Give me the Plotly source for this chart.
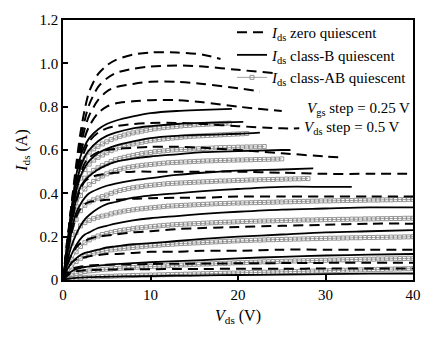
import plotly.graph_objects as go

# ---------------- data ----------------
# zero quiescent (dashed): V_ds points and I_ds values per V_gs curve
zero_v = [
    [0, .5, 1, 1.5, 2, 2.5, 3, 4, 5, 6, 8, 10, 13, 16, 18],
    [0, .5, 1, 1.5, 2, 2.5, 3, 4, 5, 6, 8, 10, 13, 16, 20, 24],
    [0, .5, 1, 1.5, 2, 2.5, 3, 4, 5, 6, 8, 10, 13, 16, 20, 22.5],
    [0, .5, 1, 1.5, 2, 2.5, 3, 4, 5, 6, 8, 10, 13, 16, 20, 25],
    [0, .5, 1, 1.5, 2, 2.5, 3, 4, 5, 6, 8, 10, 13, 16, 20, 25, 27],
    [0, .5, 1, 1.5, 2, 2.5, 3, 4, 5, 6, 8, 10, 13, 16, 20, 25, 30, 32],
    [0, .5, 1, 1.5, 2, 2.5, 3, 4, 5, 6, 8, 10, 13, 16, 20, 25, 30, 35, 40],
    [0, .5, 1, 1.5, 2, 2.5, 3, 4, 5, 6, 8, 10, 13, 16, 20, 25, 30, 35, 40],
    [0, .5, 1, 1.5, 2, 2.5, 3, 4, 5, 6, 8, 10, 13, 16, 20, 25, 30, 35, 40],
    [0, .5, 1, 1.5, 2, 2.5, 3, 4, 5, 6, 8, 10, 13, 16, 20, 25, 30, 35, 40],
    [0, .5, 1, 1.5, 2, 2.5, 3, 4, 5, 6, 8, 10, 13, 16, 20, 25, 30, 35, 40],
    [0, .5, 1, 1.5, 2, 2.5, 3, 4, 5, 6, 8, 10, 13, 16, 20, 25, 30, 35, 40],
]
zero_i = [
    [0, .18, .36, .53, .68, .79, .87, .95, .99, 1.015, 1.04, 1.05, 1.05, 1.04, 1.02],
    [0, .18, .35, .51, .64, .74, .81, .89, .93, .955, .975, .985, .99, .985, .97, .955],
    [0, .17, .34, .49, .61, .70, .76, .83, .87, .89, .905, .915, .915, .905, .885, .87],
    [0, .17, .33, .47, .58, .66, .71, .77, .80, .815, .825, .83, .83, .82, .80, .78],
    [0, .16, .31, .44, .54, .60, .64, .68, .70, .71, .72, .725, .725, .72, .71, .70, .70],
    [0, .15, .29, .41, .49, .54, .565, .59, .60, .605, .61, .615, .615, .61, .60, .585, .57, .565],
    [0, .14, .26, .36, .42, .455, .47, .485, .49, .495, .50, .50, .50, .50, .50, .495, .49, .49, .49],
    [0, .12, .22, .29, .33, .35, .36, .365, .37, .37, .375, .377, .38, .38, .385, .385, .385, .385, .385],
    [0, .07, .12, .15, .17, .18, .19, .20, .205, .21, .22, .225, .235, .24, .245, .25, .255, .26, .26],
    [0, .05, .08, .095, .10, .105, .11, .115, .12, .12, .125, .13, .13, .135, .135, .14, .14, .14, .14],
    [0, .03, .05, .058, .062, .065, .067, .069, .07, .071, .072, .074, .075, .076, .077, .078, .079, .08, .08],
    [0, .02, .035, .04, .043, .045, .046, .047, .048, .049, .05, .05, .051, .051, .052, .052, .053, .053, .053],
]

# class-B quiescent (solid)
classb_v = [
    [0, .5, 1, 1.5, 2, 2.5, 3, 4, 5, 6, 8, 10, 13, 16, 19.3],
    [0, .5, 1, 1.5, 2, 2.5, 3, 4, 5, 6, 8, 10, 13, 16, 20.6],
    [0, .5, 1, 1.5, 2, 2.5, 3, 4, 5, 6, 8, 10, 13, 16, 20, 22.5],
    [0, .5, 1, 1.5, 2, 2.5, 3, 4, 5, 6, 8, 10, 13, 16, 20, 25, 26],
    [0, .5, 1, 1.5, 2, 2.5, 3, 4, 5, 6, 8, 10, 13, 16, 20, 25, 28.6],
    [0, .5, 1, 1.5, 2, 2.5, 3, 4, 5, 6, 8, 10, 13, 16, 20, 25, 30, 33],
    [0, .5, 1, 1.5, 2, 2.5, 3, 4, 5, 6, 8, 10, 13, 16, 20, 25, 30, 35, 40],
    [0, .5, 1, 1.5, 2, 2.5, 3, 4, 5, 6, 8, 10, 13, 16, 20, 25, 30, 35, 40],
    [0, .5, 1, 1.5, 2, 2.5, 3, 4, 5, 6, 8, 10, 13, 16, 20, 25, 30, 35, 40],
    [0, .5, 1, 1.5, 2, 2.5, 3, 4, 5, 6, 8, 10, 13, 16, 20, 25, 30, 35, 40],
]
classb_i = [
    [0, .17, .34, .48, .57, .62, .655, .695, .72, .735, .755, .77, .78, .785, .79],
    [0, .16, .32, .44, .52, .57, .60, .64, .665, .68, .70, .71, .72, .725, .73],
    [0, .15, .30, .41, .48, .52, .55, .585, .605, .62, .64, .655, .665, .67, .675, .68],
    [0, .14, .27, .37, .43, .46, .48, .51, .53, .545, .56, .57, .58, .59, .595, .60, .60],
    [0, .12, .23, .31, .35, .38, .40, .42, .435, .445, .46, .47, .485, .495, .505, .51, .515],
    [0, .09, .16, .21, .25, .28, .30, .33, .35, .36, .38, .39, .40, .41, .42, .43, .43, .43],
    [0, .07, .12, .16, .19, .21, .22, .24, .25, .26, .275, .285, .295, .305, .315, .325, .33, .335, .335],
    [0, .05, .08, .10, .115, .125, .13, .14, .15, .155, .165, .17, .18, .19, .20, .21, .22, .225, .23],
    [0, .025, .04, .05, .055, .06, .062, .066, .07, .073, .078, .082, .087, .092, .10, .107, .113, .117, .12],
    [0, .005, .008, .01, .011, .012, .013, .014, .015, .016, .017, .018, .02, .021, .023, .025, .027, .029, .03],
]

# class-AB quiescent (squares), sampled every 0.5 V from V_ds = 0
VDS_STEP = 0.5
classab_i = [
    [0, .16, .31, .43, .51, .56, .59, .605, .617, .628,
     .638, .648, .656, .663, .669, .674, .679, .683, .687, .691,
     .695, .698, .701, .703, .705, .707, .709, .711, .713, .714,
     .716, .717, .718, .719, .72, .721, .722, .723, .724],
    [0, .15, .29, .40, .47, .51, .535, .553, .566, .577,
     .587, .597, .605, .612, .618, .623, .628, .632, .636, .640,
     .643, .646, .649, .651, .653, .655, .657, .659, .661, .663,
     .664, .665, .666, .667, .668, .669, .670, .671, .672, .673,
     .674, .675, .676],
    [0, .14, .27, .37, .43, .47, .49, .506, .518, .528,
     .537, .547, .555, .561, .566, .571, .575, .579, .583, .586,
     .589, .592, .594, .596, .598, .600, .601, .602, .603, .604,
     .605, .606, .607, .608, .609, .610, .611, .611, .612, .612,
     .613, .613, .614, .614, .615, .615, .616],
    [0, .13, .25, .34, .39, .42, .44, .455, .468, .48,
     .49, .498, .505, .511, .516, .52, .523, .526, .529, .531,
     .533, .535, .537, .539, .541, .542, .543, .544, .545, .546,
     .547, .548, .549, .55, .55, .551, .552, .552, .553, .553,
     .554, .554, .555, .555, .556, .556, .557, .557, .558, .558,
     .559],
    [0, .11, .21, .28, .32, .345, .36, .37, .378, .385,
     .392, .40, .407, .413, .418, .422, .426, .429, .432, .435,
     .437, .439, .441, .443, .445, .446, .447, .448, .449, .45,
     .451, .452, .453, .454, .455, .456, .457, .457, .458, .459,
     .46, .46, .461, .462, .462, .463, .463, .464, .464, .465,
     .465, .466, .466, .467, .467, .468, .468],
    [0, .09, .17, .22, .25, .265, .275, .283, .29, .295,
     .299, .305, .31, .314, .318, .321, .324, .327, .329, .331,
     .333, .335, .337, .339, .341, .342, .343, .344, .345, .346,
     .347, .348, .349, .35, .351, .352, .353, .353, .354, .355,
     .355, .356, .356, .357, .357, .358, .358, .359, .359, .36,
     .36, .361, .361, .362, .362, .363, .363, .364, .364, .365,
     .365, .365, .366, .366, .367, .367, .367, .368, .368, .368,
     .369, .369, .369, .37, .37, .37, .371, .371, .371, .372,
     .372],
    [0, .05, .095, .13, .155, .172, .185, .195, .203, .21,
     .215, .22, .224, .228, .231, .234, .237, .24, .242, .244,
     .246, .248, .25, .252, .253, .255, .256, .257, .258, .259,
     .26, .261, .262, .263, .264, .265, .266, .267, .267, .268,
     .269, .27, .27, .271, .271, .272, .272, .273, .273, .274,
     .274, .275, .275, .276, .276, .277, .277, .277, .278, .278,
     .279, .279, .279, .28, .28, .28, .281, .281, .281, .282,
     .282, .282, .283, .283, .283, .284, .284, .284, .285, .285,
     .285],
    [0, .03, .06, .085, .1, .11, .118, .124, .129, .133,
     .136, .139, .142, .144, .146, .148, .15, .152, .154, .156,
     .158, .16, .161, .163, .164, .165, .167, .168, .169, .17,
     .171, .172, .173, .174, .175, .176, .177, .178, .179, .18,
     .181, .182, .182, .183, .184, .184, .185, .186, .186, .187,
     .187, .188, .188, .189, .189, .19, .19, .191, .191, .192,
     .192, .193, .193, .193, .194, .194, .195, .195, .195, .196,
     .196, .196, .197, .197, .197, .198, .198, .198, .199, .199,
     .2],
    [0, .012, .022, .03, .035, .039, .042, .044, .046, .048,
     .05, .051, .053, .054, .055, .057, .058, .059, .06, .061,
     .062, .063, .064, .065, .066, .067, .068, .069, .07, .071,
     .072, .073, .074, .074, .075, .076, .077, .077, .078, .079,
     .08, .08, .081, .082, .082, .083, .084, .084, .085, .085,
     .086, .087, .087, .088, .088, .089, .089, .09, .09, .091,
     .091, .092, .092, .093, .093, .094, .094, .095, .095, .096,
     .096, .096, .097, .097, .098, .098, .098, .099, .099, .1,
     .1],
    [0, .004, .007, .009, .011, .012, .013, .014, .015, .016,
     .017, .017, .018, .019, .019, .02, .021, .021, .022, .022,
     .023, .023, .024, .024, .025, .025, .026, .026, .027, .027,
     .028, .028, .029, .029, .03, .03, .031, .031, .032, .032,
     .033, .033, .034, .034, .035, .035, .036, .036, .037, .037,
     .038, .038, .039, .039, .04, .04, .041, .041, .042, .042,
     .043, .043, .044, .044, .045, .045, .046, .046, .047, .047,
     .048, .048, .049, .049, .05, .05, .051, .051, .052, .052,
     .053],
]

x_ticks = [0, 10, 20, 30, 40]
x_ticktext = ["0", "10", "20", "30", "40"]
y_ticks = [0, 0.2, 0.4, 0.6, 0.8, 1.0, 1.2]
y_ticktext = ["0", "0.2", "0.4", "0.6", "0.8", "1.0", "1.2"]

name_zero = "<i>I</i><sub>ds</sub> zero quiescent"
name_b = "<i>I</i><sub>ds</sub> class-B quiescent"
name_ab = "<i>I</i><sub>ds</sub> class-AB quiescent"

FONT = "Liberation Serif, Times New Roman, serif"

fig = go.Figure()

# class-AB (gray squares)
for k, ys in enumerate(classab_i):
    xs = [VDS_STEP * j for j in range(len(ys))]
    fig.add_trace(go.Scatter(
        x=xs, y=ys, mode="lines+markers", name=name_ab,
        legendgroup="ab", showlegend=(k == 0), legendrank=3,
        line=dict(color="#8a8a8a", width=0.8),
        marker=dict(symbol="square-open", size=4, color="#8a8a8a",
                    line=dict(width=0.9, color="#8a8a8a")),
    ))

# class-B (solid)
for k, (xs, ys) in enumerate(zip(classb_v, classb_i)):
    fig.add_trace(go.Scatter(
        x=xs, y=ys, mode="lines", name=name_b,
        legendgroup="b", showlegend=(k == 0), legendrank=2,
        line=dict(color="black", width=1.8, shape="spline", smoothing=0.8),
    ))

# zero quiescent (dashed)
for k, (xs, ys) in enumerate(zip(zero_v, zero_i)):
    fig.add_trace(go.Scatter(
        x=xs, y=ys, mode="lines", name=name_zero,
        legendgroup="z", showlegend=(k == 0), legendrank=1,
        line=dict(color="black", width=2, dash="10px,6px",
                  shape="spline", smoothing=0.8),
    ))

fig.update_layout(
    width=435, height=337,
    margin=dict(l=63, r=22, t=20, b=57),
    paper_bgcolor="white", plot_bgcolor="white",
    font=dict(family=FONT, size=15, color="black"),
    showlegend=True,
    legend=dict(x=1, y=1.015, xanchor="right", yanchor="top",
                bgcolor="rgba(0,0,0,0)", borderwidth=0,
                font=dict(family=FONT, size=15), itemwidth=30,
                tracegroupgap=0, traceorder="normal"),
    annotations=[
        dict(x=27.6, y=0.79, xref="x", yref="y", xanchor="left", yanchor="middle",
             text="<i>V</i><sub>gs</sub> step = 0.25 V", showarrow=False,
             font=dict(family=FONT, size=15)),
        dict(x=27.3, y=0.70, xref="x", yref="y", xanchor="left", yanchor="middle",
             text="<i>V</i><sub>ds</sub> step = 0.5 V", showarrow=False,
             font=dict(family=FONT, size=15)),
    ],
)
fig.update_xaxes(range=[0, 40], tickvals=x_ticks, ticktext=x_ticktext,
                 ticks="inside", ticklen=5, tickwidth=1.5, tickcolor="black",
                 showline=True, linecolor="black", linewidth=1.5, mirror=True,
                 showgrid=False, zeroline=False,
                 title=dict(text="<i>V</i><sub>ds</sub> (V)", font=dict(family=FONT, size=16), standoff=8))
fig.update_yaxes(range=[0, 1.2], tickvals=y_ticks, ticktext=y_ticktext,
                 ticks="inside", ticklen=5, tickwidth=1.5, tickcolor="black",
                 showline=True, linecolor="black", linewidth=1.5, mirror=True,
                 showgrid=False, zeroline=False,
                 title=dict(text="<i>I</i><sub>ds</sub> (A)", font=dict(family=FONT, size=16), standoff=8))

fig.write_html("out.html")
